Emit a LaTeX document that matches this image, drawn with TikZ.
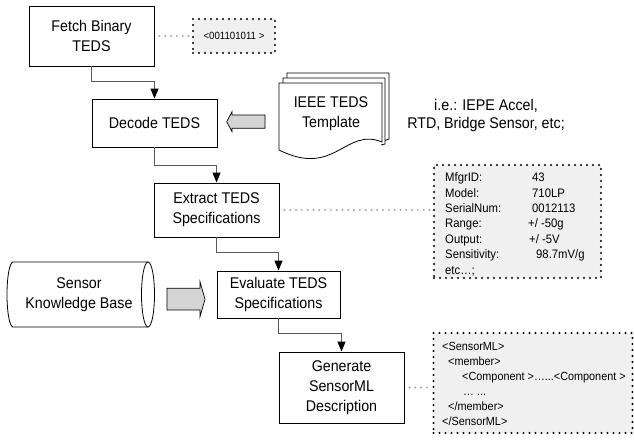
\documentclass[tikz,border=0pt]{standalone}
\usepackage{fontspec}
\setmainfont{Liberation Sans}[FakeStretch=0.92]
\usetikzlibrary{arrows.meta}
\newcommand{\bxfont}{\fontsize{15.5}{20}\selectfont}
\newcommand{\smfont}{\fontsize{12.3}{15.4}\selectfont}
\begin{document}
\begin{tikzpicture}[x=1pt,y=-1pt,
  box/.style={draw=black, line width=0.9pt, fill=white, inner sep=0pt, align=center, font=\bxfont},
  dotbox/.style={draw=black, line width=2.2pt, dash pattern=on 0pt off 6pt, line cap=round, fill=black!6, inner sep=0pt},
  dotlink/.style={draw=black!35, line width=2.2pt, dash pattern=on 0pt off 5.8pt, line cap=round},
  flow/.style={draw=black!65, line width=1.1pt, -{Triangle[length=10pt,width=8pt,fill=black,color=black]}},
  blockarrow/.style={draw=black, line width=0.7pt, fill=black!17, line join=miter},
  plain/.style={inner sep=0pt, align=center, font=\bxfont}
]
\useasboundingbox (0,0) rectangle (634,443);

% boxes
\node[box, minimum width=125pt, minimum height=60pt] (fetch) at (91.5,36) {Fetch Binary\\TEDS};
\node[box, minimum width=125pt, minimum height=48pt] (decode) at (154.5,123) {Decode TEDS};
\node[box, minimum width=125pt, minimum height=54pt] (extract) at (216.5,210) {Extract TEDS\\Specifications};
\node[box, minimum width=123pt, minimum height=47pt] (evaluate) at (278.5,294.5) {Evaluate TEDS\\Specifications};
\node[box, minimum width=125pt, minimum height=71pt] (generate) at (341.5,387.5) {Generate\\SensorML\\Description};

% dotted note boxes
\node[dotbox, minimum width=82pt, minimum height=34pt, font=\fontsize{10.5}{12}\selectfont] (binary) at (234,36) {<001101011 >};
\node[dotbox, minimum width=167pt, minimum height=113pt] (spec) at (517.5,221.5) {};
\node[dotbox, minimum width=199pt, minimum height=100pt] (sml) at (533,383) {};

\node[inner sep=0pt, anchor=base west, font=\smfont] (spectext) at (445,181.7) {%
  \begin{tabular}[t]{@{}l@{}l@{}}
  \makebox[87pt][l]{MfgrID:} & 43\\
  Model: & 710LP\\
  SerialNum: & 0012113\\
  Range: & \hspace{-4pt}+/ -50g\\
  Output: & \hspace{-3pt}+/ -5V\\
  Sensitivity: & \hspace{4pt}98.7mV/g\\
  etc…; & \\
  \end{tabular}};

\node[inner sep=0pt, anchor=base west, font=\fontsize{11.8}{15}\selectfont] (smltext) at (442,350) {%
  \begin{tabular}[t]{@{}l@{}}
  <SensorML>\\
  \hspace{6pt}<member>\\
  \hspace{20pt}<Component >…...<Component >\\
  \hspace{21pt}… ...\\
  \hspace{6pt}</member>\\
  </SensorML>\\
  \end{tabular}};

% document stack (IEEE TEDS Template)
\draw[line width=0.8pt, fill=white] (287,78) -- (287,73) -- (389,73) -- (389,139) -- (385,140.5);
\draw[line width=0.8pt, fill=white] (283,83) -- (283,78) -- (385,78) -- (385,144) -- (381,145);
\draw[line width=0.8pt, fill=white] (279,150) -- (279,83) -- (382,83) -- (382,142)
  .. controls (345,127) and (335,178) .. (279,150) -- cycle;
\node[plain] (tmpl) at (331,114) {IEEE TEDS\\Template};

% note text
\node[plain, font=\fontsize{15.5}{18}\selectfont] (note) at (486,115) {i.e.: IEPE Accel,\\RTD, Bridge Sensor, etc;};

% cylinder (Sensor Knowledge Base)
\draw[line width=0.8pt, fill=white] (148,262) -- (13,262)
  .. controls (9.7,262) and (7,276.5) .. (7,294.5)
  .. controls (7,312.5) and (9.7,327) .. (13,327) -- (148,327);
\draw[line width=0.8pt, fill=white] (148,294.5) ellipse [x radius=6.5, y radius=32.5];
\node[plain] (kb) at (79,295) {Sensor\\Knowledge Base};

% block arrows
\draw[blockarrow] (265,115) -- (232,115) -- (232,111.7) -- (226.7,121.7) -- (232,131.7) -- (232,128.3) -- (265,128.3) -- cycle;
\draw[blockarrow] (167,288.3) -- (200,288.3) -- (200,281.7) -- (205,299.3) -- (200,316.7) -- (200,310) -- (167,310) -- cycle;

% flow connectors
\draw[flow] (fetch.south) -- ++(0,15) -| (decode.north);
\draw[flow] (decode.south) -- ++(0,18) -| (extract.north);
\draw[flow] (extract.south) -- ++(0,15) -| (evaluate.north);
\draw[flow] (evaluate.south) -- ++(0,15) -| (generate.north);

% dotted links
\draw[dotlink] ([xshift=5pt]fetch.east) -- ([xshift=-3pt]binary.west);
\draw[dotlink] ([xshift=5pt]extract.east) -- ([xshift=-3pt]extract.east -| spec.west);
\draw[dotlink] ([xshift=5pt]generate.east) -- ([xshift=-3pt]generate.east -| sml.west);
\end{tikzpicture}
\end{document}
